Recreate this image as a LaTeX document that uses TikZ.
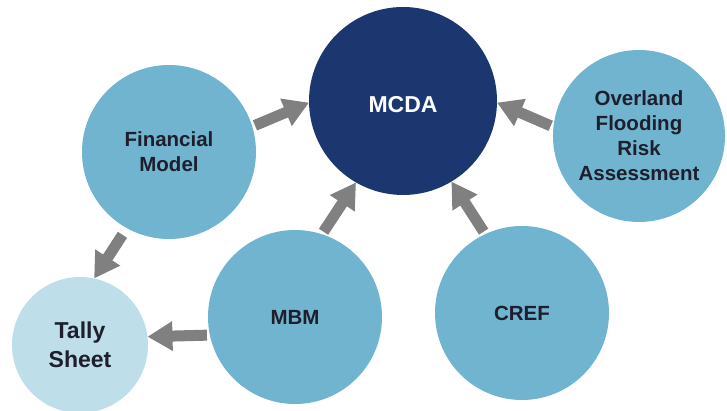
\documentclass[tikz,border=0pt]{standalone}
\usepackage{fontspec}
\setmainfont{Liberation Sans}
\usetikzlibrary{arrows.meta}
\definecolor{bubble}{RGB}{112,180,207}
\definecolor{paleblue}{RGB}{190,222,233}
\definecolor{navy}{RGB}{28,55,112}
\definecolor{inkdark}{RGB}{30,30,45}
\definecolor{arrowgray}{RGB}{128,128,128}
\begin{document}
\begin{tikzpicture}[x=1pt,y=-1pt,
  bub/.style={circle, fill=bubble, inner sep=0pt, outer sep=0pt,
    text=inkdark, align=center,
    font=\bfseries\fontsize{20.5}{25}\selectfont},
  hub/.style={bub, fill=navy, text=white,
    font=\bfseries\fontsize{23}{27}\selectfont},
  sink/.style={bub, fill=paleblue,
    font=\bfseries\fontsize{23}{29}\selectfont},
  flow/.style={draw=arrowgray, line width=11pt,
    -{Triangle[width=28pt,length=25pt]}, shorten <=3pt}]
\clip (0,0) rectangle (727,411);

% components
\node[hub,  minimum size=188pt] (mcda)  at (403,101) {\raisebox{-12pt}[0pt][0pt]{MCDA}};
\node[bub,  minimum size=174pt] (fin)   at (169,152) {Financial\\Model};
\node[bub,  minimum size=172pt] (ofra)  at (639,136) {Overland\\Flooding\\Risk\\Assessment};
\node[bub,  minimum size=174pt] (mbm)   at (295,317) {MBM};
\node[bub,  minimum size=174pt] (cref)  at (522,313) {CREF};
\node[sink, minimum size=136pt] (tally) at (80,345)  {Tally\\Sheet};

% data flows
\draw[flow] (fin.17)   -- (mcda.181);
\draw[flow, shorten <=8pt] (fin.241) -- (tally.78);
\draw[flow] (mbm.192)  -- (tally.7);
\draw[flow] (mbm.72)   -- (mcda.240);
\draw[flow] (cref.115) -- (mcda.301);
\draw[flow] (ofra.174) -- (mcda.-1);
\end{tikzpicture}
\end{document}
